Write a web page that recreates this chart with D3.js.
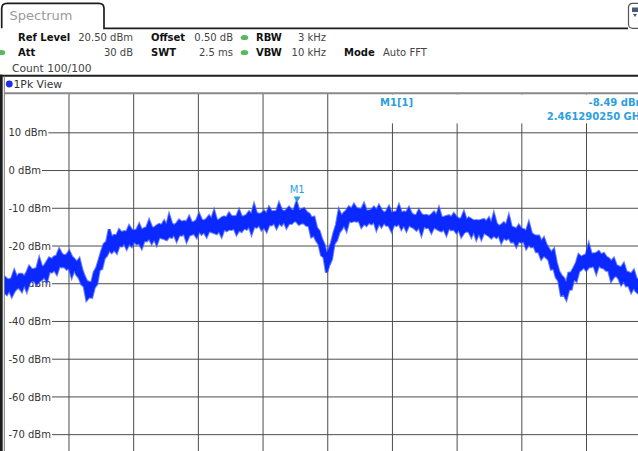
<!DOCTYPE html>
<html>
<head>
<meta charset="utf-8">
<script src="https://cdn.jsdelivr.net/npm/d3@7"></script>
<style>
  html, body { margin: 0; padding: 0; background: #fff; }
  svg { display: block; font-family: "DejaVu Sans", sans-serif; }
</style>
</head>
<body>
<svg id="chart" width="638" height="451"></svg>
<script>
// ---- instrument settings ----
const refLevel = 20.5;          // dBm at top of grid
const levelRange = 100;         // 10 dB / div
const centerGHz = 2.462;
const spanGHz = 0.015;
const freqDivisions = 10;
const levelTicks = [10, 0, -10, -20, -30, -40, -50, -60, -70];

const setupRow1Names  = ["Ref Level", "Offset", "RBW"];
const setupRow1Values = ["20.50 dBm", "0.50 dB", "3 kHz"];
const setupRow2Names  = ["Att", "SWT", "VBW", "Mode"];
const setupRow2Values = ["30 dB", "2.5 ms", "10 kHz", "Auto FFT"];
const sweepCount = "Count 100/100";
const windowTitle = "Spectrum";
const traceTitle = "1Pk View";

// ---- marker ----
const markerName = "M1";
const markerTag = "M1[1]";
const markerLevel = -8.49;        // dBm
const markerFreqGHz = 2.46129025;

// ---- trace 1: highest and lowest level in each display bin, dBm ----
const traceMax = [
  -28.2, -28.8, -29.0, -28.6, -26.7, -28.4, -27.5, -27.5, -28.2, -27.1,
  -25.5, -26.3, -26.2, -26.0, -23.5, -25.6, -25.4, -24.3, -23.2, -23.6,
  -22.9, -22.7, -21.0, -22.2, -22.6, -22.4, -21.5, -22.9, -23.5, -24.4,
  -23.5, -26.2, -28.0, -29.4, -29.6, -29.7, -27.0, -25.8, -23.6, -21.4,
  -19.5, -18.9, -15.6, -17.8, -17.2, -17.3, -15.8, -16.5, -16.2, -16.3,
  -14.8, -15.8, -16.0, -15.8, -14.4, -15.9, -15.4, -15.2, -13.4, -15.1,
  -15.3, -14.7, -14.3, -14.6, -13.5, -14.7, -12.0, -14.1, -14.6, -14.1,
  -13.2, -13.7, -13.5, -13.7, -12.4, -13.9, -13.7, -13.3, -11.7, -13.2,
  -13.4, -12.9, -12.1, -13.0, -10.9, -13.2, -13.2, -12.6, -12.3, -12.6,
  -11.4, -12.3, -12.2, -12.3, -10.7, -12.4, -12.2, -11.9, -11.0, -11.8,
  -9.3, -11.4, -11.6, -11.5, -10.8, -11.6, -9.9, -11.0, -10.9, -10.9,
  -8.9, -10.5, -11.0, -10.5, -9.8, -10.6, -10.6, -8.49, -10.8, -10.4,
  -10.1, -11.1, -11.5, -12.6, -12.4, -15.2, -16.0, -18.1, -19.6, -22.2,
  -21.0, -19.2, -16.5, -14.4, -10.7, -12.2, -11.3, -10.7, -9.7, -10.3,
  -9.1, -10.1, -10.2, -10.4, -9.0, -10.8, -10.7, -10.5, -9.8, -10.7,
  -9.4, -10.6, -11.3, -10.9, -9.7, -11.4, -11.1, -11.1, -9.4, -11.3,
  -11.0, -11.2, -10.0, -11.5, -11.9, -12.0, -10.6, -11.7, -12.0, -11.9,
  -12.2, -11.8, -11.1, -12.1, -10.2, -12.5, -12.4, -12.2, -12.0, -12.5,
  -11.5, -12.4, -12.9, -12.8, -11.2, -13.2, -12.6, -13.0, -13.4, -13.3,
  -13.4, -13.2, -13.0, -13.6, -12.7, -14.2, -11.7, -14.1, -14.8, -14.5,
  -13.9, -14.6, -12.3, -15.0, -15.2, -15.6, -14.6, -15.5, -15.7, -16.2,
  -14.1, -16.6, -17.2, -17.4, -17.4, -18.9, -18.0, -19.8, -20.8, -21.9,
  -21.0, -24.4, -26.8, -27.9, -28.6, -30.2, -27.2, -27.1, -25.9, -24.6,
  -22.4, -23.0, -22.6, -22.3, -19.8, -22.2, -22.1, -22.0, -21.5, -22.4,
  -22.0, -23.0, -23.4, -24.2, -23.4, -25.2, -25.5, -25.8, -24.8, -26.9,
  -27.1, -27.5, -26.6, -28.7, -29.0, -29.6, -28.5, -29.7, -30.2, -30.4
];
const traceMin = [
  -32.2, -32.8, -31.6, -33.2, -31.9, -31.2, -31.0, -31.9, -30.1, -31.8,
  -29.8, -29.1, -29.1, -30.1, -29.2, -28.9, -28.0, -29.3, -26.7, -26.9,
  -26.2, -27.3, -25.3, -25.5, -25.4, -26.1, -25.7, -28.0, -26.1, -27.6,
  -28.4, -30.1, -30.7, -34.2, -33.4, -33.6, -31.0, -30.1, -26.3, -26.0,
  -23.2, -22.5, -21.0, -21.7, -20.9, -21.7, -19.8, -20.0, -19.1, -20.6,
  -19.2, -20.0, -18.7, -19.4, -19.2, -20.4, -18.5, -18.6, -17.9, -19.2,
  -18.0, -19.5, -17.6, -17.8, -18.0, -18.3, -17.4, -17.7, -16.8, -18.5,
  -17.0, -17.1, -16.6, -18.6, -17.1, -16.9, -16.6, -17.6, -16.0, -16.8,
  -16.2, -17.4, -15.9, -16.2, -16.4, -16.7, -15.9, -17.3, -15.4, -15.9,
  -15.5, -15.6, -15.2, -16.8, -15.7, -16.1, -15.2, -15.5, -14.6, -16.6,
  -14.7, -15.0, -14.3, -15.6, -14.9, -16.0, -14.3, -14.4, -13.7, -15.1,
  -13.8, -14.4, -13.4, -15.0, -13.9, -14.0, -13.3, -13.4, -14.2, -13.8,
  -13.9, -14.5, -14.6, -17.5, -17.1, -18.5, -19.5, -22.4, -22.9, -27.0,
  -25.0, -23.5, -19.4, -18.5, -16.4, -15.5, -14.3, -15.7, -13.2, -13.5,
  -13.2, -13.4, -13.2, -14.9, -14.0, -14.5, -13.7, -14.1, -13.4, -15.5,
  -13.8, -14.8, -13.7, -14.5, -14.5, -15.9, -14.2, -14.5, -13.9, -15.4,
  -14.3, -15.8, -14.3, -14.8, -15.1, -15.7, -14.8, -16.8, -14.6, -15.1,
  -15.0, -16.3, -14.9, -15.3, -15.7, -16.0, -15.4, -16.9, -15.1, -15.7,
  -15.5, -16.4, -15.5, -17.4, -16.4, -16.0, -16.1, -17.4, -15.9, -18.0,
  -16.4, -18.0, -16.3, -16.8, -17.2, -17.8, -17.1, -17.7, -17.0, -18.9,
  -17.6, -18.2, -17.7, -18.9, -18.7, -20.0, -18.6, -19.0, -18.6, -20.5,
  -19.5, -20.2, -19.9, -21.5, -21.5, -23.3, -22.4, -23.0, -23.6, -26.1,
  -25.9, -28.3, -29.2, -33.0, -32.7, -34.0, -31.5, -31.4, -28.6, -29.2,
  -26.7, -26.2, -25.5, -26.4, -25.5, -25.5, -25.1, -27.0, -25.0, -25.6,
  -25.8, -26.4, -26.5, -29.1, -28.1, -27.8, -28.5, -30.1, -29.1, -30.5,
  -30.4, -32.1, -30.9, -32.0, -32.5, -33.3, -32.7, -34.8, -32.8, -33.1
];

// ---- layout ----
const W = 638, H = 451;
const plot = { left: 4.3, top: 93.2, width: 646.9, height: 377.3 };
const ink = "#1e1e1e";
const gridInk = "#4d4d4d";
const markerBlue = "#2b9fe0";
const traceBlue = "#0a28ff";

const svg = d3.select("#chart");

const x = d3.scaleLinear()
  .domain([centerGHz - spanGHz / 2, centerGHz + spanGHz / 2])
  .range([plot.left, plot.left + plot.width]);
const y = d3.scaleLinear()
  .domain([refLevel, refLevel - levelRange])
  .range([plot.top, plot.top + plot.height]);
const sampleFreq = d3.scaleLinear()
  .domain([0, traceMax.length - 1])
  .range(x.domain());

// ---- grid ----
const grid = svg.append("g");
const freqLines = d3.range(1, freqDivisions).map(k => x.domain()[0] + k * spanGHz / freqDivisions);
grid.selectAll("line.v").data(freqLines).join("line")
  .attr("x1", d => x(d)).attr("x2", d => x(d))
  .attr("y1", plot.top).attr("y2", H)
  .attr("stroke", gridInk).attr("stroke-width", 1);

const levelLabels = grid.selectAll("g.lvl").data(levelTicks).join("g");
levelLabels.each(function (d) {
  const g = d3.select(this);
  const t = g.append("text")
    .attr("x", 8.5).attr("y", y(d) + 3.6)
    .attr("font-size", 10).attr("fill", "#333")
    .text(`${d} dBm`);
  const end = 8.5 + t.node().getComputedTextLength() + 1;
  g.insert("line", "text")
    .attr("x1", end).attr("x2", W)
    .attr("y1", y(d)).attr("y2", y(d))
    .attr("stroke", gridInk).attr("stroke-width", 1);
});

// ---- trace ----
svg.append("clipPath").attr("id", "plotClip")
  .append("rect").attr("x", plot.left).attr("y", plot.top)
  .attr("width", plot.width).attr("height", plot.height);

const band = d3.area()
  .x((d, i) => x(sampleFreq(i)))
  .y0((d, i) => y(traceMin[i]))
  .y1(d => y(d));
const traceG = svg.append("g").attr("clip-path", "url(#plotClip)");
// soft fringe of the noise, then the solid body
traceG.append("path")
  .attr("d", band(traceMax))
  .attr("fill", "none")
  .attr("stroke", "#3a55ff")
  .attr("stroke-opacity", 0.75)
  .attr("stroke-width", 3.2)
  .attr("stroke-linejoin", "miter");
traceG.append("path")
  .attr("d", band(traceMax))
  .attr("fill", traceBlue)
  .attr("stroke", traceBlue)
  .attr("stroke-width", 1.2)
  .attr("stroke-linejoin", "miter");

// ---- marker readout ----
svg.append("rect")
  .attr("x", 378).attr("y", plot.top + 1.2).attr("width", W - 378).attr("height", 29)
  .attr("fill", "#fff");
const readout = svg.append("g").attr("font-size", 10).attr("font-weight", "bold").attr("fill", markerBlue);
readout.append("text").attr("x", 380).attr("y", 105.5).text(markerTag);
readout.append("text").attr("x", 646).attr("y", 105.5).attr("text-anchor", "end")
  .text(`${markerLevel.toFixed(2)} dBm`);
readout.append("text").attr("x", 646).attr("y", 120).attr("text-anchor", "end")
  .text(`${markerFreqGHz.toFixed(9)} GHz`);

// marker symbol on trace
const mx = x(markerFreqGHz), my = y(markerLevel);
svg.append("path")
  .attr("d", `M${mx - 3.5},${my - 6} L${mx + 3.5},${my - 6} L${mx},${my} Z`)
  .attr("fill", markerBlue);
svg.append("text")
  .attr("x", mx).attr("y", my - 9.5).attr("text-anchor", "middle")
  .attr("font-size", 10).attr("fill", markerBlue)
  .text(markerName);

// ---- frame ----
// trace window title bar
svg.append("line").attr("x1", 0).attr("x2", W).attr("y1", 75.7).attr("y2", 75.7)
  .attr("stroke", ink).attr("stroke-width", 2);
svg.append("line").attr("x1", plot.left).attr("x2", W).attr("y1", plot.top).attr("y2", plot.top)
  .attr("stroke", "#8a8a8a").attr("stroke-width", 2);
svg.append("rect").attr("x", 0).attr("y", 74.7).attr("width", 2.7).attr("height", H - 74.7)
  .attr("fill", ink);
svg.append("line").attr("x1", plot.left).attr("x2", plot.left).attr("y1", 76).attr("y2", H)
  .attr("stroke", "#777").attr("stroke-width", 1);
svg.append("circle").attr("cx", 9.3).attr("cy", 84).attr("r", 3.4).attr("fill", "#1f2de6");
svg.append("text").attr("x", 13.5).attr("y", 88).attr("font-size", 10.8).attr("fill", "#333")
  .text(traceTitle);

// window tab
svg.append("path")
  .attr("d", "M1.7,28.3 V8.5 Q1.7,3.3 7,3.3 H99 Q104,3.3 104,8.5 V28.3 H628")
  .attr("fill", "none").attr("stroke", ink).attr("stroke-width", 1.7);
svg.append("text").attr("x", 9.5).attr("y", 20).attr("font-size", 13).attr("fill", "#9a9a9a")
  .text(windowTitle);
svg.append("rect").attr("x", 628.5).attr("y", 3.3).attr("width", 16).attr("height", 25).attr("rx", 4)
  .attr("fill", "#fff").attr("stroke", "#555").attr("stroke-width", 1.2);
svg.append("rect").attr("x", 632).attr("y", 7.5).attr("width", 6).attr("height", 4.5).attr("fill", "#4a5a7a");
svg.append("path").attr("d", "M633,14 L637,14 L635,17 Z").attr("fill", "#4a5a7a");

// ---- setup panel ----
const panel = svg.append("g").attr("font-size", 10);
const nameX1 = [18, 151, 256];
const valueEnd1 = [133, 233, 326];
setupRow1Names.forEach((n, i) => {
  panel.append("text").attr("x", nameX1[i]).attr("y", 40.5).attr("font-weight", "bold").attr("fill", "#111").text(n);
  panel.append("text").attr("x", valueEnd1[i]).attr("y", 40.5).attr("text-anchor", "end").attr("fill", "#444").text(setupRow1Values[i]);
});
const nameX2 = [18, 151, 256, 344];
setupRow2Names.forEach((n, i) => {
  panel.append("text").attr("x", nameX2[i]).attr("y", 56).attr("font-weight", "bold").attr("fill", "#111").text(n);
  const v = panel.append("text").attr("y", 56).attr("fill", "#444").text(setupRow2Values[i]);
  if (i < 3) v.attr("x", valueEnd1[i]).attr("text-anchor", "end");
  else v.attr("x", 383);
});
panel.append("text").attr("x", 12).attr("y", 71.5).attr("font-size", 10.7).attr("fill", "#444").text(sweepCount);

// coupling indicators
[[244.5, 37.5], [244.5, 52.5], [1.5, 52.5]].forEach(([cx, cy]) => {
  svg.append("ellipse").attr("cx", cx).attr("cy", cy).attr("rx", 3.8).attr("ry", 2.6).attr("fill", "#5cb85c");
});
</script>
</body>
</html>
